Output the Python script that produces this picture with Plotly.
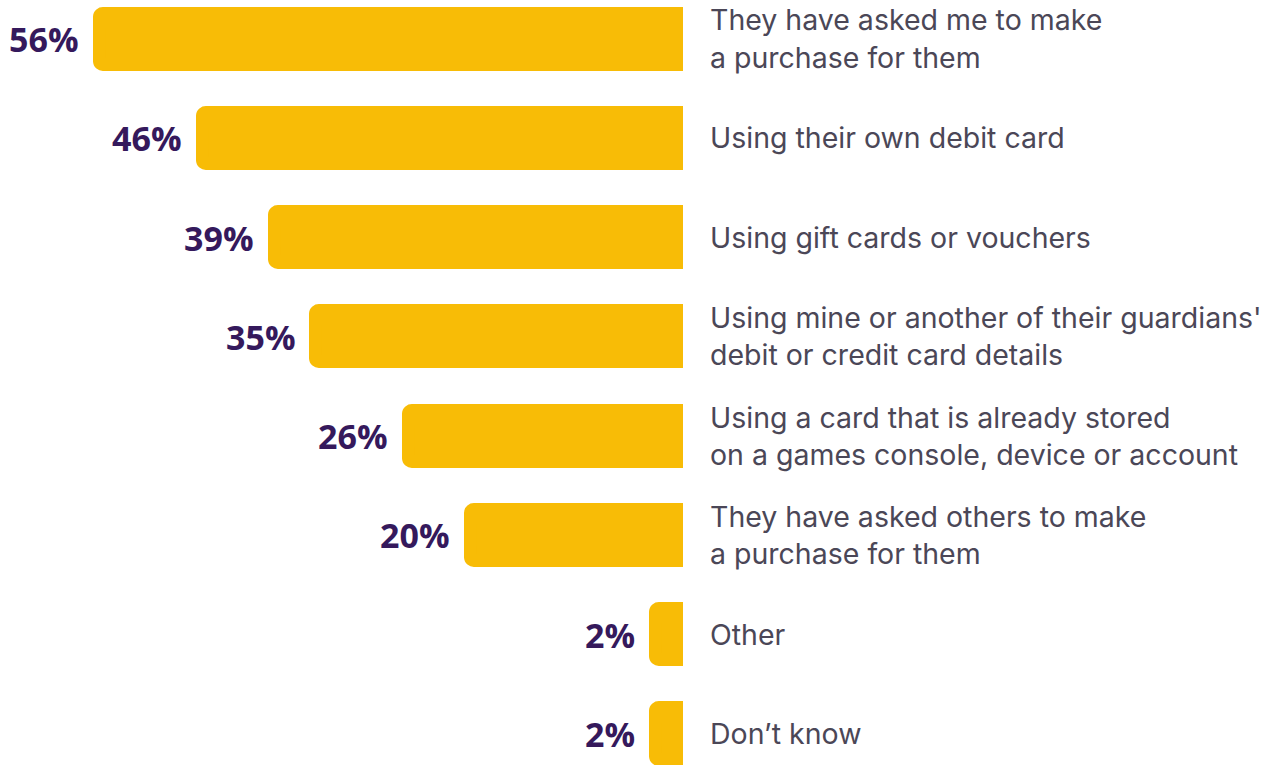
import plotly.graph_objects as go

# Survey answers, top to bottom
categories = [
    "They have asked me to make<br>a purchase for them",
    "Using their own debit card",
    "Using gift cards or vouchers",
    "Using mine or another of their guardians'<br>debit or credit card details",
    "Using a card that is already stored<br>on a games console, device or account",
    "They have asked others to make<br>a purchase for them",
    "Other",
    "Don’t know",
]
values = [56, 46, 39, 35, 26, 20, 2, 2]

BAR = "#F8BC06"
VALUE_TXT = "#35195C"
LABEL_TXT = "#4B4757"
VALUE_FONT = "Open Sans"
LABEL_FONT = "Inter"

W, H = 1272, 765
zero_px = 676.5          # pixel where the bars start
plot_right = 700         # right edge of the plotting area
px_per_unit = 10.3
row_px = 99.2
stroke = 13

rows = list(range(len(categories)))

fig = go.Figure(
    go.Bar(
        x=values,
        y=rows,
        orientation="h",
        width=(64 - stroke) / row_px,
        marker=dict(color=BAR, line=dict(color=BAR, width=stroke), cornerradius=4),
        cliponaxis=False,
        hoverinfo="skip",
    )
)

# value labels just past the end of each bar
for r, v in zip(rows, values):
    fig.add_annotation(
        x=v, y=r, xref="x", yref="y",
        text=f"{v}%",
        showarrow=False,
        xanchor="right", yanchor="middle",
        xshift=-(stroke / 2 + 12),
        font=dict(family=VALUE_FONT, size=34, color=VALUE_TXT, weight="bold"),
    )

fig.update_layout(
    width=W,
    height=H,
    margin=dict(l=0, r=W - plot_right, t=0, b=0),
    paper_bgcolor="white",
    plot_bgcolor="white",
    showlegend=False,
    bargap=0,
    xaxis=dict(
        range=[zero_px / px_per_unit, -(plot_right - zero_px) / px_per_unit],
        visible=False,
        fixedrange=True,
    ),
    yaxis=dict(
        range=[(len(categories) - 1) + (H - 734) / row_px, -39 / row_px],
        tickmode="array",
        tickvals=rows,
        ticktext=categories,
        side="right",
        showgrid=False,
        zeroline=False,
        showline=False,
        ticks="",
        ticklabelstandoff=9,
        tickfont=dict(family=LABEL_FONT, size=28.5, color=LABEL_TXT),
        fixedrange=True,
    ),
)

fig.write_html("out.html")
